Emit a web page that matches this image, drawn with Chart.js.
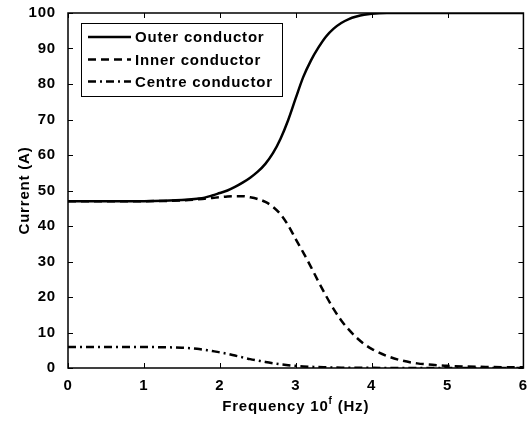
<!DOCTYPE html>
<html>
<head>
<meta charset="utf-8">
<script src="https://cdn.jsdelivr.net/npm/chart.js@4"></script>
<style>
  html, body { margin: 0; padding: 0; background: #fff; }
  #wrap { width: 529px; height: 421px; }
</style>
</head>
<body>
<div id="wrap"><canvas id="chart" width="529" height="421"></canvas></div>
<script>
// frequency exponent f (x axis)
var freq = [0, 0.5, 1, 1.5, 1.7, 1.8, 1.9, 2.0, 2.1, 2.2, 2.3, 2.4, 2.5, 2.6, 2.7, 2.8, 2.9,
            3.0, 3.1, 3.2, 3.3, 3.4, 3.5, 3.6, 3.7, 3.8, 3.9, 4.0, 4.2, 4.4, 4.6, 4.8, 5, 5.5, 6];
// currents (A)
var outerCurrent  = [47, 47, 47, 47.3, 47.7, 48.0, 48.6, 49.3, 50.0, 51.0, 52.2, 53.6, 55.3, 57.5, 60.5, 64.6, 69.8,
                     76.0, 82.0, 86.6, 90.3, 93.4, 95.6, 97.2, 98.3, 99.0, 99.5, 99.8, 100, 100, 100, 100, 100, 100, 100];
var innerCurrent  = [47, 47, 47, 47.2, 47.5, 47.7, 47.9, 48.1, 48.3, 48.4, 48.4, 48.1, 47.6, 46.8, 45.4, 43.3, 40.2,
                     36.3, 32.5, 28.5, 24.3, 20.3, 16.6, 13.4, 10.8, 8.6, 6.8, 5.4, 3.4, 2.1, 1.3, 0.9, 0.6, 0.3, 0.2];
var centreCurrent = [5.9, 5.9, 5.9, 5.7, 5.4, 5.1, 4.8, 4.4, 4.0, 3.5, 3.0, 2.5, 2.1, 1.7, 1.35, 1.05, 0.8,
                     0.6, 0.45, 0.35, 0.25, 0.2, 0.15, 0.1, 0.08, 0.06, 0.05, 0.04, 0.03, 0.02, 0.01, 0, 0, 0, 0];

var seriesNames = ['Outer conductor', 'Inner conductor', 'Centre conductor'];
var seriesDash = [[], [8, 5], [8, 4, 2, 4]];
var seriesData = [outerCurrent, innerCurrent, centreCurrent];

var FAMILY = '"Liberation Sans", Arial, sans-serif';
var FONT = 'bold 15px ' + FAMILY;
var SPACING = '0.8px';

function pts(values) {
    return freq.map(function (f, i) { return { x: f, y: values[i] }; });
}

var spacingPlugin = {
    id: 'spacing',
    beforeLayout: function (chart) { chart.ctx.letterSpacing = SPACING; },
    beforeDraw: function (chart) { chart.ctx.letterSpacing = SPACING; }
};

var framePlugin = {
    id: 'frame',
    afterDraw: function (chart) {
        var ctx = chart.ctx;
        var a = chart.chartArea;
        var xs = chart.scales.x, ys = chart.scales.y;
        ctx.save();
        ctx.letterSpacing = SPACING;
        ctx.strokeStyle = '#000';
        ctx.lineWidth = 1.5;
        ctx.setLineDash([]);
        ctx.strokeRect(a.left, a.top, a.right - a.left, a.bottom - a.top);

        // inward tick marks on all four sides
        ctx.lineWidth = 1;
        var tl = 5;
        ctx.beginPath();
        xs.ticks.forEach(function (t) {
            var px = Math.round(xs.getPixelForValue(t.value)) + 0.5;
            ctx.moveTo(px, a.bottom); ctx.lineTo(px, a.bottom - tl);
            ctx.moveTo(px, a.top); ctx.lineTo(px, a.top + tl);
        });
        ys.ticks.forEach(function (t) {
            var py = Math.round(ys.getPixelForValue(t.value)) + 0.5;
            ctx.moveTo(a.left, py); ctx.lineTo(a.left + tl, py);
            ctx.moveTo(a.right, py); ctx.lineTo(a.right - tl, py);
        });
        ctx.stroke();

        // axis titles
        ctx.fillStyle = '#000';
        ctx.font = FONT;
        ctx.textBaseline = 'alphabetic';
        ctx.textAlign = 'left';
        var cx = (a.left + a.right) / 2;
        var base = 411;
        var p1 = 'Frequency 10', p3 = ' (Hz)';
        var supFont = 'bold 10px ' + FAMILY;
        var w1 = ctx.measureText(p1).width;
        ctx.font = supFont;
        var w2 = ctx.measureText('f').width;
        ctx.font = FONT;
        var w3 = ctx.measureText(p3).width;
        var x0 = cx - (w1 + w2 + w3) / 2;
        ctx.fillText(p1, x0, base);
        ctx.font = supFont;
        ctx.fillText('f', x0 + w1, base - 7);
        ctx.font = FONT;
        ctx.fillText(p3, x0 + w1 + w2, base);

        ctx.save();
        ctx.translate(29, (a.top + a.bottom) / 2);
        ctx.rotate(-Math.PI / 2);
        ctx.textAlign = 'center';
        ctx.fillText('Current (A)', 0, 0);
        ctx.restore();

        // legend box
        var lx = 81, ly = 23, lw = 201, lh = 73;
        ctx.fillStyle = '#fff';
        ctx.fillRect(lx, ly, lw, lh);
        ctx.lineWidth = 1;
        ctx.strokeStyle = '#000';
        ctx.strokeRect(lx + 0.5, ly + 0.5, lw, lh);
        var rows = [37, 59.5, 81.5];
        chart.data.datasets.forEach(function (ds, i) {
            ctx.beginPath();
            ctx.setLineDash(ds.borderDash || []);
            ctx.lineWidth = 2.5;
            ctx.moveTo(88, rows[i]);
            ctx.lineTo(131, rows[i]);
            ctx.stroke();
            ctx.setLineDash([]);
            ctx.fillStyle = '#000';
            ctx.textBaseline = 'middle';
            ctx.textAlign = 'left';
            ctx.fillText(ds.label, 135, rows[i] + 1);
        });
        ctx.restore();
    }
};

var ctx = document.getElementById('chart').getContext('2d');
new Chart(ctx, {
    type: 'line',
    data: {
        datasets: seriesData.map(function (vals, i) {
            return {
                label: seriesNames[i],
                data: pts(vals),
                borderColor: '#000',
                borderWidth: 2.5,
                borderDash: seriesDash[i],
                pointRadius: 0,
                fill: false,
                cubicInterpolationMode: 'monotone'
            };
        })
    },
    options: {
        responsive: false,
        animation: false,
        devicePixelRatio: 1,
        layout: { padding: { top: 12, right: 4, left: 0, bottom: 0 } },
        plugins: {
            legend: { display: false },
            tooltip: { enabled: false }
        },
        scales: {
            x: {
                type: 'linear',
                min: 0,
                max: 6,
                grid: { display: false },
                border: { display: false },
                ticks: { stepSize: 1, color: '#000', padding: 1, font: { family: FAMILY, size: 15, weight: 'bold' }, maxRotation: 0 },
                afterFit: function (s) { s.height = 53; }
            },
            y: {
                min: 0,
                max: 100,
                grid: { display: false },
                border: { display: false },
                ticks: { stepSize: 10, color: '#000', padding: 4, font: { family: FAMILY, size: 15, weight: 'bold' } },
                afterFit: function (s) { s.width = 68; }
            }
        }
    },
    plugins: [spacingPlugin, framePlugin]
});
</script>
</body>
</html>
